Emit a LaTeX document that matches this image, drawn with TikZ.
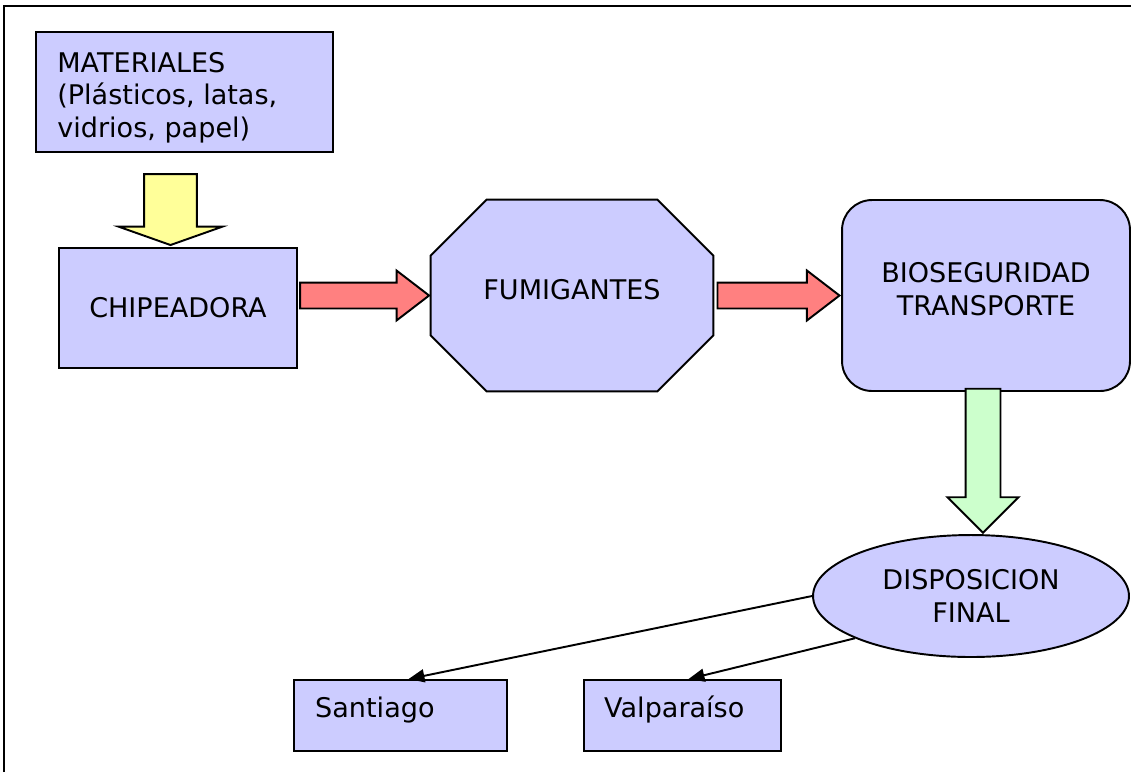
\documentclass[tikz,border=0pt]{standalone}
\usepackage{fontspec}
\setmainfont{DejaVu Sans}
\usetikzlibrary{arrows.meta,shapes.geometric,shapes.arrows,calc}

\definecolor{boxfill}{HTML}{CCCCFF}
\definecolor{redfill}{HTML}{FF8080}
\definecolor{yellowfill}{HTML}{FFFF99}
\definecolor{greenfill}{HTML}{CCFFCC}

\begin{document}
\begin{tikzpicture}[
    x=0.02cm, y=-0.02cm,
    every node/.style={font=\fontsize{15.4}{18.4}\selectfont},
    stage/.style={draw, line width=1.1pt, fill=boxfill, rectangle, inner sep=0pt},
    fat/.style={draw, line width=1.1pt, single arrow, inner xsep=0pt, single arrow head indent=0pt},
    redfat/.style={fat, fill=redfill, inner ysep=0.24cm, single arrow head extend=0.24cm, single arrow tip angle=75},
    arrow/.style={-{Triangle[length=3.2mm, width=2.6mm]}, line width=1.1pt}
]
\useasboundingbox (0,0) rectangle (1131,772);

% Frame
\draw[line width=1.1pt] (4,772) -- (4,6) -- (1131,6);

% Process stages
\node[stage, minimum width=5.94cm, minimum height=2.4cm] (mat) at (184.5,92) {};
\node[anchor=north west, align=left, inner sep=0pt] (mattxt) at (57,52)
    {MATERIALES\\(Plásticos, latas,\\vidrios, papel)};
\node[stage, minimum width=4.76cm, minimum height=2.4cm] (chip) at (178,308) {CHIPEADORA};
\node[minimum width=5.64cm, minimum height=3.82cm, inner sep=0pt] (fum) at (572,295.5) {};
\draw[line width=1.1pt, fill=boxfill]
    ($(fum.north west)+(56,0)$) -- ($(fum.north east)+(-56,0)$) -- ($(fum.north east)+(0,56)$)
    -- ($(fum.south east)+(0,-56)$) -- ($(fum.south east)+(-56,0)$) -- ($(fum.south west)+(56,0)$)
    -- ($(fum.south west)+(0,-56)$) -- ($(fum.north west)+(0,56)$) -- cycle;
\node (fumtxt) at (572,290) {FUMIGANTES};
\node[stage, rounded corners=0.6cm, minimum width=5.76cm, minimum height=3.82cm]
    (bio) at (986,295.5) {};
\node[align=center] (biotxt) at (986,289) {BIOSEGURIDAD\\TRANSPORTE};
\node[stage, ellipse, minimum width=6.32cm, minimum height=2.44cm, align=center]
    (disp) at (971,596) {DISPOSICION\\FINAL};

% Destinations
\node[stage, minimum width=4.26cm, minimum height=1.42cm] (sant) at (400.5,715.5) {};
\node[anchor=west] (santtxt) at (309,710) {Santiago};
\node[stage, minimum width=3.94cm, minimum height=1.42cm] (valp) at (682.5,715.5) {};
\node[anchor=west] (valptxt) at (598,709) {Valparaíso};

% Block arrows
\node[fat, fill=yellowfill, rotate=-90, anchor=tip, minimum height=1.42cm, inner ysep=0.51cm,
    single arrow head extend=0.51cm, single arrow tip angle=141]
    (ya) at ($(chip.north)+(-7.5,-1)$) {};
\node[redfat, anchor=tip, minimum height=2.58cm] (ra) at (fum.west) {};
\node[redfat, anchor=tip, minimum height=2.44cm] (rb) at (bio.west) {};
\node[fat, fill=greenfill, rotate=-90, anchor=tip, minimum height=2.88cm, inner ysep=0.33cm,
    single arrow head extend=0.36cm, single arrow tip angle=90]
    (ga) at ($(disp.north)+(12,0)$) {};

% Thin arrows
\draw[arrow] (disp.west) -- ($(sant.north)+(8,0)$);
\draw[arrow] (disp.200) -- ($(valp.north)+(6,0)$);

\end{tikzpicture}
\end{document}
